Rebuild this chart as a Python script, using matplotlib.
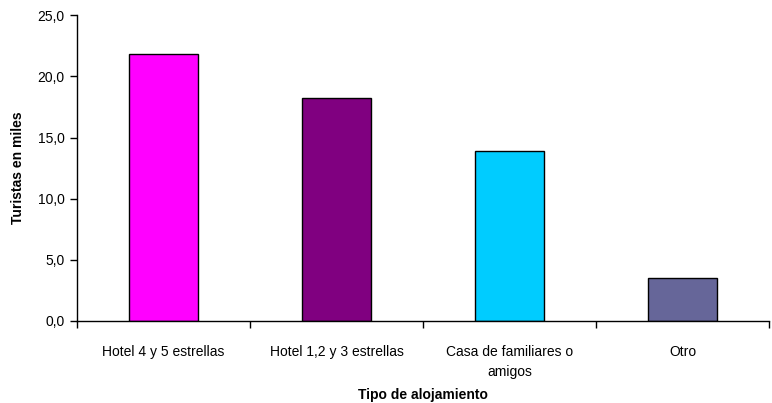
import matplotlib
matplotlib.use('Agg')
import matplotlib.pyplot as plt
from matplotlib.ticker import FuncFormatter, FixedLocator

categories = ['Hotel 4 y 5 estrellas', 'Hotel 1,2 y 3 estrellas',
              'Casa de familiares o\namigos', 'Otro']
values = [21.8, 18.2, 13.9, 3.5]
colors = ['#FF00FF', '#800080', '#00CCFF', '#666699']

plt.rcParams['font.family'] = ['Liberation Sans', 'DejaVu Sans']

fig = plt.figure(figsize=(7.72, 4.03), dpi=100)
ax = fig.add_axes([0.0997, 0.2035, 0.8964, 0.7585])

x = list(range(len(categories)))
ax.bar(x, values, width=0.4, color=colors, edgecolor='black', linewidth=1.0)

ax.set_xlim(-0.5, len(categories) - 0.5)
ax.set_ylim(0, 25)
ax.set_yticks([0, 5, 10, 15, 20, 25])
ax.yaxis.set_major_formatter(FuncFormatter(lambda v, _: f'{v:.1f}'.replace('.', ',')))

# category labels without ticks, tick marks on category boundaries
ax.set_xticks(x)
ax.set_xticklabels(categories, fontsize=10, linespacing=1.6, va='top')
ax.tick_params(axis='x', which='major', length=0, pad=17)
ax.xaxis.set_minor_locator(FixedLocator([i - 0.5 for i in range(len(categories) + 1)]))
ax.tick_params(axis='x', which='minor', length=5, width=1, direction='out')
ax.tick_params(axis='y', length=5, width=1, direction='out', labelsize=10, pad=4)

ax.spines['top'].set_visible(False)
ax.spines['right'].set_visible(False)
ax.spines['left'].set_linewidth(1)
ax.spines['bottom'].set_linewidth(1)

ax.set_ylabel('Turistas en miles', fontsize=10, fontweight='bold', labelpad=9)
ax.set_xlabel('Tipo de alojamiento', fontsize=10, fontweight='bold', labelpad=6)

fig.savefig('out.png', dpi=100)
